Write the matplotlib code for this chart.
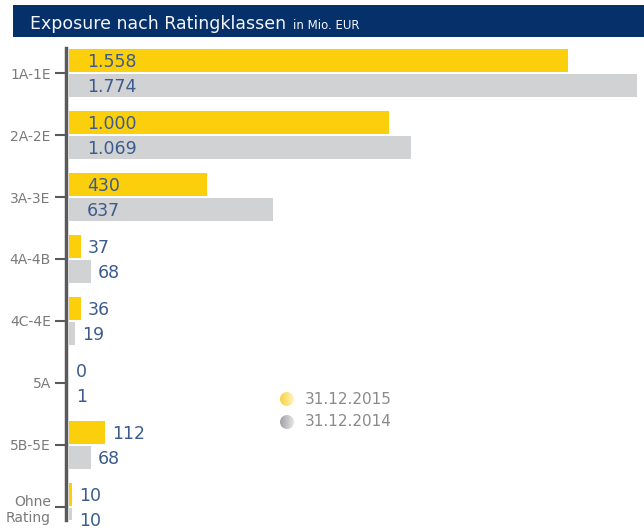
import matplotlib
matplotlib.use("Agg")
import matplotlib.pyplot as plt
import numpy as np
from matplotlib.patches import Circle, Rectangle

categories = ["1A-1E", "2A-2E", "3A-3E", "4A-4B", "4C-4E", "5A", "5B-5E", "Ohne\nRating"]
values_2015 = [1558, 1000, 430, 37, 36, 0, 112, 10]
values_2014 = [1774, 1069, 637, 68, 19, 1, 68, 10]
labels_2015 = ["1.558", "1.000", "430", "37", "36", "0", "112", "10"]
labels_2014 = ["1.774", "1.069", "637", "68", "19", "1", "68", "10"]
series_names = ["31.12.2015", "31.12.2014"]

YELLOW = "#fccf0c"
GREY = "#d1d2d4"
NAVY = "#06306a"
LABEL_BLUE = "#3b5b8e"
TICK_GREY = "#7a7a7a"

W, H = 644, 528
fig = plt.figure(figsize=(W / 100, H / 100), dpi=100)
plt.rcParams["font.family"] = ["DejaVu Sans"]


def fx(px):
    return px / W


def fy(py):
    return 1 - py / H


# title banner
banner = fig.add_axes([fx(13), fy(37), fx(W - 13), (37 - 5) / H])
banner.set_axis_off()
banner.add_patch(Rectangle((0, 0), 1, 1, color=NAVY, transform=banner.transAxes))
t = fig.text(fx(30), fy(29), "Exposure nach Ratingklassen", color="#f4f6fa", fontsize=12.5,
             va="baseline")
fig.canvas.draw()
bb = t.get_window_extent()
fig.text(bb.x1 / W + fx(7), fy(29), "in Mio. EUR", color="#f4f6fa", fontsize=8.5, va="baseline")

# main axes: left spine at x=66 px, rows spaced 62 px, first row at y=73 px
px_per_unit = (637 - 69) / 1774
x_left = -3 / px_per_unit
x_right = (W - 69) / px_per_unit
top_px, bot_px = 48, 520
row0, step = 73, 62
ax = fig.add_axes([fx(66), fy(bot_px), fx(W - 66), (bot_px - top_px) / H])
ax.set_xlim(x_left, x_right)
ax.set_ylim((bot_px - row0) / step, (top_px - row0) / step)

y = np.arange(len(categories))
h = 0.36
ax.barh(y - 0.2, values_2015, height=h, color=YELLOW, left=0)
ax.barh(y + 0.2, values_2014, height=h, color=GREY, left=0)

inside_x = (87 - 69) / px_per_unit
pad = 7 / px_per_unit
for i in range(len(categories)):
    for v, lab, off in ((values_2015[i], labels_2015[i], -0.2), (values_2014[i], labels_2014[i], 0.2)):
        xpos = inside_x if v > 300 else v + pad
        ax.text(xpos, y[i] + off + 0.02, lab, color=LABEL_BLUE, fontsize=12.5,
                va="center", ha="left", clip_on=False)

for s in ("top", "right", "bottom"):
    ax.spines[s].set_visible(False)
ax.spines["left"].set_color("#5a5a5a")
ax.spines["left"].set_linewidth(2.5)
ax.set_xticks([])
ax.set_yticks(y)
ax.set_yticklabels(categories, color=TICK_GREY, fontsize=10, linespacing=1.25)
ax.tick_params(axis="y", length=8, width=1.5, color="#5a5a5a", pad=3)

# legend with gradient circles
for k, (name, c0, c1) in enumerate(zip(series_names, ["#f9d23a", "#9fa0a4"], ["#fff4c4", "#e6e6e8"])):
    cy = 399 + 23 * k
    lax = fig.add_axes([fx(280), fy(cy + 7), fx(14), 14 / H])
    lax.set_axis_off()
    grad = np.linspace(0, 1, 64)[None, :, None]
    a = np.array(matplotlib.colors.to_rgb(c0))
    b = np.array(matplotlib.colors.to_rgb(c1))
    img = a * (1 - grad) + b * grad
    im = lax.imshow(img, extent=(0, 1, 0, 1), aspect="auto")
    circ = Circle((0.5, 0.5), 0.5, transform=lax.transData)
    im.set_clip_path(circ)
    lax.set_xlim(0, 1)
    lax.set_ylim(0, 1)
    fig.text(fx(305), fy(cy), name, color="#8a8a8a", fontsize=11, va="center")

fig.savefig("out.png", dpi=100)
